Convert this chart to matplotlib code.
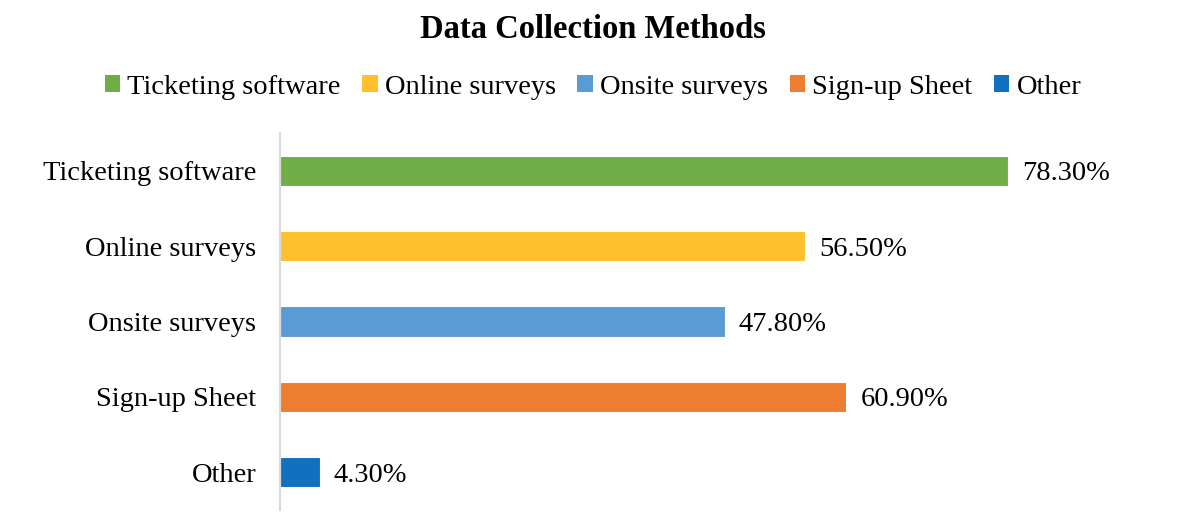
import matplotlib
matplotlib.use("Agg")
import matplotlib.pyplot as plt
from matplotlib.patches import Patch

categories = ["Ticketing software", "Online surveys", "Onsite surveys", "Sign-up Sheet", "Other"]
values = [78.3, 56.5, 47.8, 60.9, 4.3]
colors = ["#70AD47", "#FFC02E", "#5B9BD5", "#ED7D31", "#1170C0"]

plt.rcParams['font.family'] = ['Liberation Serif', 'DejaVu Serif']

fig = plt.figure(figsize=(11.86, 5.28), dpi=100)
ax = fig.add_axes([280/1186, 18/528, 837/1186, 377/528])

ypos = list(range(len(categories)))
ax.barh(ypos, values, height=0.4, color=colors, edgecolor="white", linewidth=0.8)
ax.set_ylim(len(categories) - 0.5, -0.5)
ax.set_xlim(0, 90)
ax.set_yticks(ypos)
ax.set_yticklabels(categories, fontsize=20.5)
ax.tick_params(axis='y', length=0, pad=17)
ax.set_xticks([])
for s in ["top", "right", "bottom"]:
    ax.spines[s].set_visible(False)
ax.spines["left"].set_color("#D9D9D9")
ax.spines["left"].set_linewidth(1.5)

for y, v in zip(ypos, values):
    ax.text(v + 1.5, y, f"{v:.2f}%", va="center_baseline", ha="left", fontsize=20.5)

fig.text(0.5, 1 - 29/528, "Data Collection Methods", ha="center", va="center",
         fontsize=23.5, fontweight="bold")

handles = [Patch(facecolor=c, edgecolor="none") for c in colors]
fig.legend(handles, categories, loc="center", bbox_to_anchor=(0.5, 1 - 87/528),
           ncol=5, frameon=False, fontsize=20.5, handlelength=0.55, handleheight=0.55,
           handletextpad=0.25, columnspacing=0.75)

fig.savefig("out.png", dpi=100)
